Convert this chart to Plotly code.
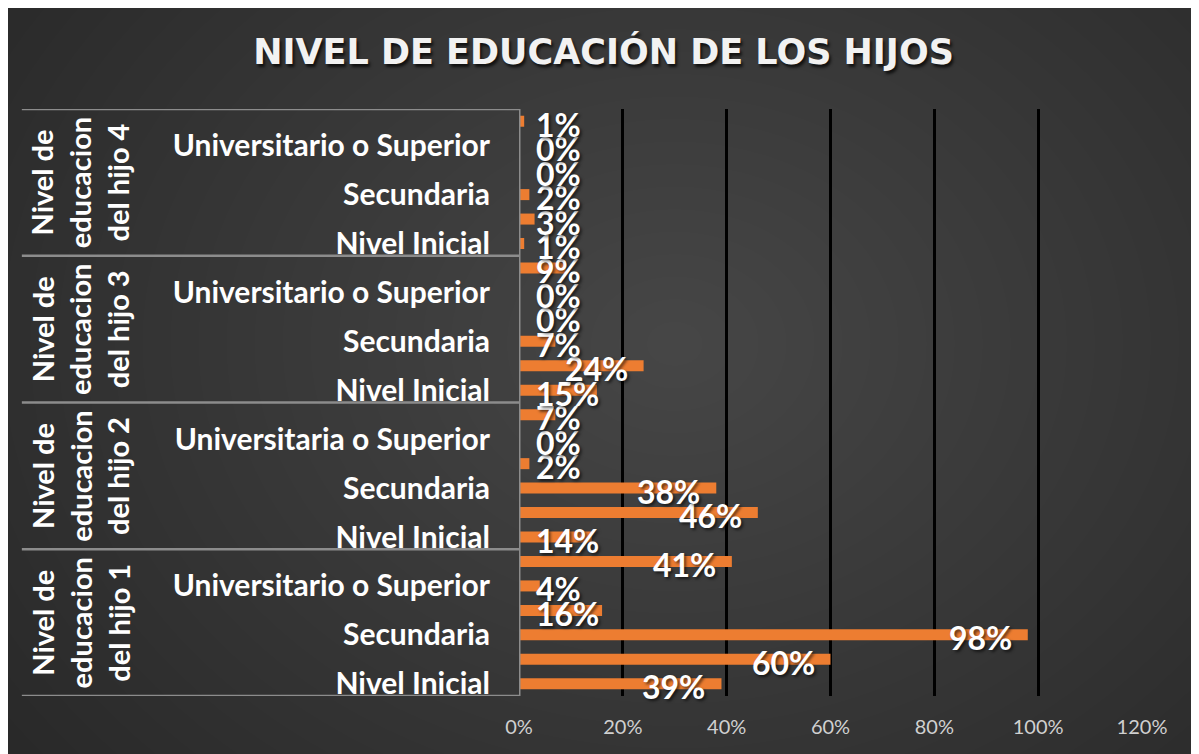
import plotly.graph_objects as go

# ---- data ----
group_names = [
    "Nivel de<br>educacion<br>del hijo 1",
    "Nivel de<br>educacion<br>del hijo 2",
    "Nivel de<br>educacion<br>del hijo 3",
    "Nivel de<br>educacion<br>del hijo 4",
]
# category labels (bottom to top inside each group); "" = label not shown
levels_hijo1 = ["Nivel Inicial", "", "Secundaria", "", "Universitario o Superior", ""]
levels_hijo2 = ["Nivel Inicial", "", "Secundaria", "", "Universitaria o Superior", ""]
levels_hijo3 = ["Nivel Inicial", "", "Secundaria", "", "Universitario o Superior", ""]
levels_hijo4 = ["Nivel Inicial", "", "Secundaria", "", "Universitario o Superior", ""]

values_hijo1 = [39, 60, 98, 16, 4, 41]
values_hijo2 = [14, 46, 38, 2, 0, 7]
values_hijo3 = [15, 24, 7, 0, 0, 9]
values_hijo4 = [1, 3, 2, 0, 0, 1]

x_ticks = [0, 20, 40, 60, 80, 100, 120]
title_text = "NIVEL DE EDUCACIÓN DE LOS HIJOS"

# ---- assemble ----
all_levels = levels_hijo1 + levels_hijo2 + levels_hijo3 + levels_hijo4
all_values = values_hijo1 + values_hijo2 + values_hijo3 + values_hijo4
group_sizes = [len(values_hijo1), len(values_hijo2), len(values_hijo3), len(values_hijo4)]
positions = list(range(len(all_values)))

FONT = "Lato"
ORANGE = "#ED7D31"
W, H = 1191, 746
ML, MR, MT, MB = 511, 57, 101, 58

fig = go.Figure()
fig.add_trace(go.Bar(
    x=all_values, y=positions, orientation="h",
    width=0.45,
    marker=dict(color=ORANGE, line=dict(width=0)),
    hoverinfo="x+y",
))

label_font = dict(family=FONT, size=32, color="white", weight="bold",
                  shadow="2px 2px 3px rgba(0,0,0,0.6)")
annotations = []
# data labels
for pos, v in zip(positions, all_values):
    if v >= 19:
        annotations.append(dict(x=v, y=pos, xref="x", yref="y", text=f"{v}%",
                                showarrow=False, xanchor="right", xshift=-14, yshift=-3,
                                font=label_font))
    else:
        annotations.append(dict(x=0, y=pos, xref="x", yref="y", text=f"{v}%",
                                showarrow=False, xanchor="left", xshift=15, yshift=-3,
                                font=label_font))

shapes = []
# soft radial glow on the dark background
n_glow = 30
for k in range(n_glow):
    f = 1 - k / n_glow
    cx, cy = 0.25, 0.6
    rx, ry = 1.35 * f, 1.15 * f
    shapes.append(dict(type="circle", xref="paper", yref="paper",
                       x0=cx - rx, x1=cx + rx, y0=cy - ry, y1=cy + ry,
                       fillcolor="rgba(255,255,255,0.0085)", line=dict(width=0), layer="below"))

# group labels and divider lines
start = 0
boundaries = [-0.5]
for name, size in zip(group_names, group_sizes):
    center = start + (size - 1) / 2
    annotations.append(dict(x=-0.705, y=center, xref="paper", yref="y", text=name,
                            textangle=-90, showarrow=False, xanchor="center", yanchor="middle",
                            font=dict(family=FONT, size=29, color="white", weight="bold")))
    start += size
    boundaries.append(start - 0.5)

for b in boundaries:
    shapes.append(dict(type="line", xref="paper", yref="y", x0=-0.798, x1=0, y0=b, y1=b,
                       line=dict(color="#8c8c8c", width=2.5), layer="above"))
shapes.append(dict(type="line", xref="x", yref="y", x0=0, x1=0, y0=-0.5, y1=len(all_values) - 0.5,
                   line=dict(color="#8c8c8c", width=3), layer="above"))

tick_pos = [p for p, lab in zip(positions, all_levels) if lab]
tick_txt = [lab for lab in all_levels if lab]

fig.update_layout(
    width=W, height=H,
    margin=dict(l=ML, r=MR, t=MT, b=MB),
    paper_bgcolor="#282828",
    plot_bgcolor="rgba(0,0,0,0)",
    showlegend=False,
    title=dict(text=title_text, x=0.5, xref="container", y=1 - 44 / H, yref="container",
               xanchor="center", yanchor="middle",
               font=dict(family="DejaVu Sans", size=35, color="#f2f2f2", weight="bold",
                         shadow="2px 3px 3px rgba(0,0,0,0.7)")),
    xaxis=dict(range=[0, 120], tickvals=x_ticks, ticktext=[f"{t}%" for t in x_ticks],
               showgrid=True, gridcolor="black", gridwidth=3, zeroline=False,
               showline=False, ticks="",
               ticklabelstandoff=17,
               tickfont=dict(family=FONT, size=20, color="#d0d0d0")),
    yaxis=dict(range=[-0.5, len(all_values) - 0.5], tickvals=tick_pos, ticktext=tick_txt,
               showgrid=False, zeroline=False, showline=False, ticks="",
               ticklabelstandoff=28,
               tickfont=dict(family=FONT, size=30, color="white", weight="bold")),
    annotations=annotations,
    shapes=shapes,
)

fig.write_html("out.html")
